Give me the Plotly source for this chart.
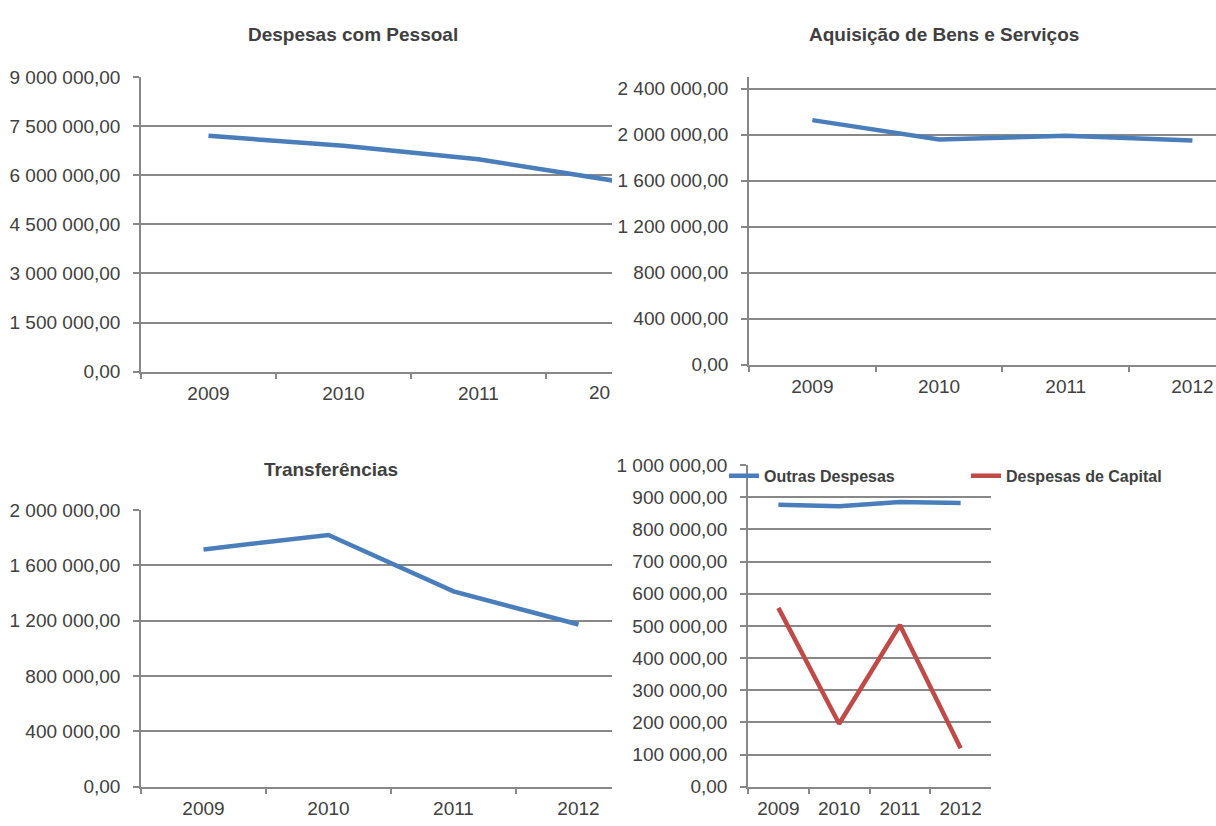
import plotly.graph_objects as go

W, H = 1216, 826

years = ["2009", "2010", "2011", "2012"]

pessoal = [7210000, 6905000, 6490000, 5840000]
bens_servicos = [2127000, 1958000, 1992000, 1949000]
transferencias = [1715000, 1819000, 1412000, 1172000]
outras_despesas = [877000, 872000, 885000, 882000]
despesas_capital = [556000, 196000, 503000, 120000]

BLUE = "#4a7ebb"
RED = "#be4b48"
GRID = "#888888"
TXT = "#404040"
FONT = "Liberation Sans, Arial, sans-serif"


def px_x(p):
    return p / W


def px_y(p):
    return 1 - p / H


def xax(left, right, rng, anchor):
    return dict(domain=[px_x(left), px_x(right)], anchor=anchor, type="category",
                range=rng, showgrid=False, showline=True, linecolor=GRID, linewidth=1.5,
                ticks="outside", tickson="boundaries", ticklen=6, tickcolor=GRID,
                tickwidth=1.5, tickfont=dict(size=19, color=TXT, family=FONT),
                ticklabelstandoff=4, zeroline=False, fixedrange=True)


def yax(top, bottom, rng, dtick, anchor):
    return dict(domain=[px_y(bottom), px_y(top)], anchor=anchor, range=rng, dtick=dtick,
                tick0=0, tickformat=",.2f", showgrid=True, gridcolor=GRID, gridwidth=1.5,
                showline=True, linecolor=GRID, linewidth=1.5, ticks="outside", ticklen=6,
                tickcolor=GRID, tickwidth=1.5, zeroline=False, ticklabelstandoff=9,
                tickfont=dict(size=19, color=TXT, family=FONT), fixedrange=True)


fig = go.Figure()

line = dict(color=BLUE, width=4.5)
fig.add_trace(go.Scatter(x=years, y=pessoal, mode="lines", line=line,
                         xaxis="x", yaxis="y", showlegend=False))
fig.add_trace(go.Scatter(x=years, y=bens_servicos, mode="lines", line=line,
                         xaxis="x2", yaxis="y2", showlegend=False))
fig.add_trace(go.Scatter(x=years, y=transferencias, mode="lines", line=line,
                         xaxis="x3", yaxis="y3", showlegend=False))
fig.add_trace(go.Scatter(x=years, y=outras_despesas, mode="lines", line=line,
                         xaxis="x4", yaxis="y4", name="Outras Despesas"))
fig.add_trace(go.Scatter(x=years, y=despesas_capital, mode="lines",
                         line=dict(color=RED, width=4.5),
                         xaxis="x4", yaxis="y4", name="Despesas de Capital"))

fig.update_layout(
    width=W, height=H,
    margin=dict(l=0, r=0, t=0, b=0),
    paper_bgcolor="white", plot_bgcolor="white",
    separators=", ",
    font=dict(family=FONT, color=TXT),
    xaxis=xax(141, 612, [-0.5, 2.99], "y"),
    yaxis=yax(69, 371, [0, 9000000], 1500000, "x"),
    xaxis2=xax(749, 1216, [-0.5, 3.186], "y2"),
    yaxis2=yax(69, 364, [0, 2500000], 400000, "x2"),
    xaxis3=xax(141, 612, [-0.5, 3.268], "y3"),
    yaxis3=yax(513, 797, [0, 2000000], 400000, "x3"),
    xaxis4=xax(748, 991, [-0.5, 3.5], "y4"),
    yaxis4=yax(467, 797, [0, 1000000], 100000, "x4"),
    legend=dict(orientation="h", x=px_x(724), y=px_y(478), xanchor="left", yanchor="middle",
                bgcolor="rgba(0,0,0,0)", entrywidth=197, entrywidthmode="pixels",
                font=dict(size=16, color=TXT, family=FONT, weight="bold")),
    showlegend=True,
)

titles = [("Despesas com Pessoal", 353, 25), ("Aquisição de Bens e Serviços", 944, 25),
          ("Transferências", 331, 471)]
for text, cx, cy in titles:
    fig.add_annotation(text="<b>" + text + "</b>", x=px_x(cx), y=px_y(cy), xref="paper",
                       yref="paper", showarrow=False, xanchor="center", yanchor="middle",
                       font=dict(size=19, color=TXT, family=FONT))

# 2012 label of the first chart is cut by the neighbouring chart
fig.add_annotation(text="20", x=px_x(612), y=px_y(392), xref="paper", yref="paper",
                   showarrow=False, xanchor="right", yanchor="middle",
                   font=dict(size=19, color=TXT, family=FONT))

# page has a default 8px body margin; drop it so the figure fills the window
fig.write_html("out.html", config={"displayModeBar": False},
               post_script="document.body.style.margin='0';")
